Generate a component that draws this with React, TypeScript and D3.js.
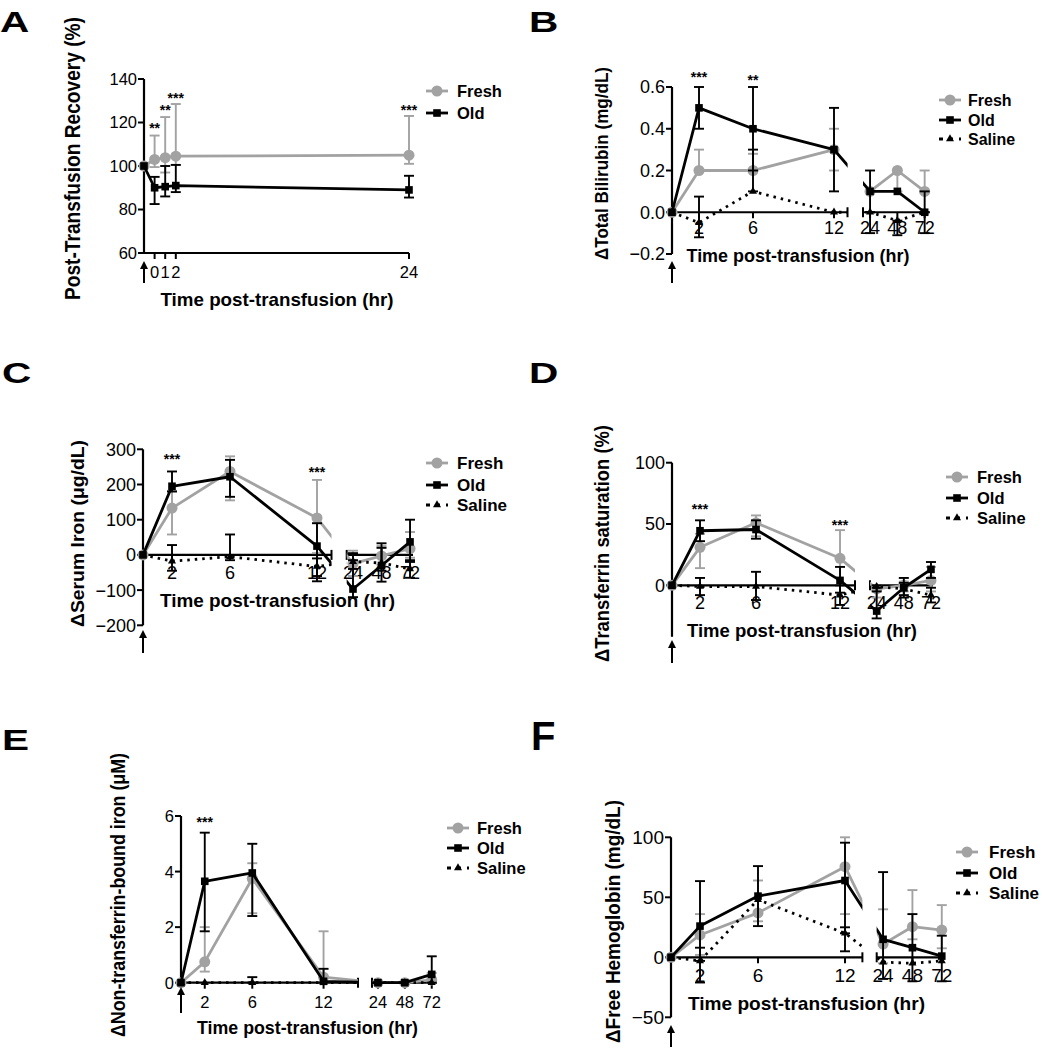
import React from 'react';
import * as d3 from 'd3';

const FONT = "'Liberation Sans', Arial, Helvetica, sans-serif";
const GRAY = '#a2a2a2';

// ---------- Panel A ----------
const A_TIMES = [-1, 0, 1, 2, 24];
const A_FRESH = [100, 103, 103.8, 104.5, 105];
const A_FRESH_HI = [100, 114, 122.5, 128.5, 123];
const A_FRESH_LO = [100, 99.5, 97, 100.5, 101];
const A_OLD = [100, 90, 90.5, 91, 89];
const A_OLD_HI = [100, 95, 100, 100.5, 95.5];
const A_OLD_LO = [100, 82.5, 86, 88, 85.5];
const A_STAR_T = [0, 1, 2, 24];
const A_STAR_V = [119, 127, 132.5, 127];
const A_STAR_TXT = ['**', '**', '***', '***'];
const A_XTICKS = [0, 1, 2, 24];
const A_YTICKS = [60, 80, 100, 120, 140];

// ---------- shared time points ----------
const TIMES = [0, 2, 6, 12, 24, 48, 72];
const SEG_TICKS = [[2, 6, 12], [24, 48, 72]];

// ---------- Panel B: Total bilirubin ----------
const B_FRESH = [0, 0.2, 0.2, 0.3, 0.1, 0.2, 0.1];
const B_FRESH_HI = [0, 0.3, 0.28, 0.4, 0.1, 0.2, 0.2];
const B_FRESH_LO = [0, 0.2, 0.2, 0.2, 0.1, 0.1, 0.1];
const B_OLD = [0, 0.5, 0.4, 0.3, 0.1, 0.1, 0];
const B_OLD_HI = [0, 0.6, 0.6, 0.5, 0.2, 0.1, 0.1];
const B_OLD_LO = [0, 0.4, 0.2, 0.1, 0, 0.1, 0];
const B_SAL = [0, -0.05, 0.1, 0, 0, -0.04, 0];
const B_SAL_HI = [0, 0.075, 0.3, 0, 0, -0.04, 0];
const B_SAL_LO = [0, -0.12, 0.1, 0, -0.1, -0.11, -0.1];
const B_STAR_T = [2, 6];
const B_STAR_V = [0.663, 0.648];
const B_STAR_TXT = ['***', '**'];
const B_YTICKS = [-0.2, 0, 0.2, 0.4, 0.6];

// ---------- Panel C: Serum iron ----------
const C_FRESH = [0, 133, 237, 105, -25, -3, 18];
const C_FRESH_HI = [0, 182, 280, 213, 12, 25, 65];
const C_FRESH_LO = [0, 58, 155, 5, -60, -28, -8];
const C_OLD = [0, 195, 222, 25, -97, -30, 37];
const C_OLD_HI = [0, 237, 270, 90, -15, 33, 100];
const C_OLD_LO = [0, 180, 165, -75, -120, -76, -20];
const C_SAL = [0, -18, -5, -33, -19, -23, -40];
const C_SAL_HI = [0, 28, 58, -10, 5, 20, -15];
const C_SAL_LO = [0, -45, -15, -60, -40, -45, -65];
const C_STAR_T = [2, 12];
const C_STAR_V = [281, 244];
const C_STAR_TXT = ['***', '***'];
const C_YTICKS = [-200, -100, 0, 100, 200, 300];

// ---------- Panel D: Transferrin saturation ----------
const D_FRESH = [0, 31, 51, 22, -3, 0, 4];
const D_FRESH_HI = [0, 42, 57, 45, 0, 3, 15];
const D_FRESH_LO = [0, 14, 40, 0, -10, -5, -5];
const D_OLD = [0, 44.5, 45.5, 4, -21, -2, 13];
const D_OLD_HI = [0, 53, 53, 15, -2, 6, 19];
const D_OLD_LO = [0, 36, 38, -6, -27, -10, 6];
const D_SAL = [0, -1, -1, -8, -1, -3, -8];
const D_SAL_HI = [0, 6, 11, 0, 0, 2, -2];
const D_SAL_LO = [0, -8, -12, -16, -5, -8, -14];
const D_STAR_T = [2, 12];
const D_STAR_V = [64.6, 51.6];
const D_STAR_TXT = ['***', '***'];
const D_YTICKS = [0, 50, 100];

// ---------- Panel E: NTBI ----------
const E_FRESH = [0, 0.75, 3.75, 0.2, 0, 0, 0.1];
const E_FRESH_HI = [0, 2.0, 4.3, 1.85, 0, 0, 0.35];
const E_FRESH_LO = [0, 0.4, 2.5, 0, 0, 0, 0];
const E_OLD = [0, 3.65, 3.95, 0.05, 0, 0, 0.3];
const E_OLD_HI = [0, 5.4, 5.0, 0.5, 0, 0, 0.95];
const E_OLD_LO = [0, 1.85, 2.4, 0, 0, 0, 0];
const E_SAL = [0, 0, 0, 0, 0, 0, 0];
const E_SAL_HI = [0, 0, 0.2, 0, 0, 0, 0];
const E_SAL_LO = [0, 0, 0, 0, 0, 0, 0];
const E_STAR_T = [2];
const E_STAR_V = [5.89];
const E_STAR_TXT = ['***'];
const E_YTICKS = [0, 2, 4, 6];

// ---------- Panel F: Free hemoglobin ----------
const F_FRESH = [0, 18.6, 37, 75.5, 11, 25.5, 22.7];
const F_FRESH_HI = [0, 36, 64, 100, 40, 56, 43.5];
const F_FRESH_LO = [0, 2, 30, 36, -5, 15, 7.5];
const F_OLD = [0, 26, 51, 64, 15, 8, 1];
const F_OLD_HI = [0, 63.5, 76, 95.5, 71, 36, 18];
const F_OLD_LO = [0, -21, 26, 5, -18, -20, -20];
const F_SAL = [0, -3, 48, 20, -4, -5, -3];
const F_SAL_HI = [0, 8, 48, 25, -4, -5, -3];
const F_SAL_LO = [0, -3, 48, 20, -4, -5, -3];
const F_YTICKS = [-50, 0, 50, 100];

const SERIES_NAMES = ['Fresh', 'Old', 'Saline'];

type Marker = 'circle' | 'square' | 'triangle';
type Series = {
  name: string; color: string; marker: Marker; dashed: boolean;
  t: number[]; v: number[]; lo: number[]; hi: number[];
};
type Star = { t: number; v: number; text: string };
type PanelCfg = {
  id: string;
  label: string; labelX: number; labelY: number; labelSize: number; labelStretch: number;
  xDomain: number[]; xRange: number[];
  segments: [number, number][];
  segTicks: number[][];
  yDomain: [number, number]; yRange: [number, number];
  yTicks: number[]; yFmt: (v: number) => string;
  xAxisAt: number;
  tickLabelY: number; tickSize: number; legendSize: number;
  series: Series[];
  stars: Star[];
  legendX: number; legendY: number[]; legendTextX: number;
  yTitle: string; yTitleX: number; yTitleY: number; yTitleSize: number; yTitleLen: number;
  xTitle: string; xTitleX: number; xTitleY: number; xTitleLen: number;
  arrowTop: number; arrowBottom: number;
};

function mk(name: string, t: number[], v: number[], lo: number[], hi: number[]): Series {
  if (name === 'Fresh') return { name, color: GRAY, marker: 'circle', dashed: false, t, v, lo, hi };
  if (name === 'Old') return { name, color: '#000', marker: 'square', dashed: false, t, v, lo, hi };
  return { name, color: '#000', marker: 'triangle', dashed: true, t, v, lo, hi };
}
function stars(t: number[], v: number[], txt: string[]): Star[] {
  return t.map((tt, i) => ({ t: tt, v: v[i], text: txt[i] }));
}
const fmtInt = (v: number) => d3.format('d')(v);
const fmt1 = (v: number) => d3.format('.1f')(v);
const XT = 'Time post-transfusion (hr)';

const PANELS: PanelCfg[] = [
  {
    id: 'A', label: 'A', labelX: 0, labelY: 32, labelSize: 29, labelStretch: 1.4,
    xDomain: [-1, 24], xRange: [144, 409], segments: [[-1, 24]], segTicks: [A_XTICKS],
    yDomain: [60, 140], yRange: [253, 79], yTicks: A_YTICKS, yFmt: fmtInt, xAxisAt: 60,
    tickLabelY: 272, tickSize: 16.5, legendSize: 16.5,
    series: [mk('Fresh', A_TIMES, A_FRESH, A_FRESH_LO, A_FRESH_HI), mk('Old', A_TIMES, A_OLD, A_OLD_LO, A_OLD_HI)],
    stars: stars(A_STAR_T, A_STAR_V, A_STAR_TXT),
    legendX: 437, legendY: [91, 113], legendTextX: 457,
    yTitle: 'Post-Transfusion Recovery (%)', yTitleX: 72, yTitleY: 158.5, yTitleSize: 21.5, yTitleLen: 283,
    xTitle: XT, xTitleX: 277, xTitleY: 299, xTitleLen: 233, arrowTop: 261, arrowBottom: 283,
  },
  {
    id: 'B', label: 'B', labelX: 529, labelY: 32, labelSize: 29, labelStretch: 1.4,
    xDomain: [0, 13, 17.8, 72.3], xRange: [672, 847.5, 863, 925], segments: [[0, 13], [17.8, 72.3]], segTicks: SEG_TICKS,
    yDomain: [-0.2, 0.6], yRange: [254, 87], yTicks: B_YTICKS, yFmt: fmt1, xAxisAt: 0,
    tickLabelY: 228, tickSize: 18, legendSize: 16,
    series: [mk('Fresh', TIMES, B_FRESH, B_FRESH_LO, B_FRESH_HI), mk('Old', TIMES, B_OLD, B_OLD_LO, B_OLD_HI), mk('Saline', TIMES, B_SAL, B_SAL_LO, B_SAL_HI)],
    stars: stars(B_STAR_T, B_STAR_V, B_STAR_TXT),
    legendX: 950, legendY: [100, 120, 139], legendTextX: 968,
    yTitle: '\u0394Total Bilirubin (mg/dL)', yTitleX: 602, yTitleY: 163.5, yTitleSize: 18, yTitleLen: 193,
    xTitle: XT, xTitleX: 798, xTitleY: 255, xTitleLen: 223, arrowTop: 261, arrowBottom: 283,
  },
  {
    id: 'C', label: 'C', labelX: 2, labelY: 383, labelSize: 29, labelStretch: 1.4,
    xDomain: [0, 13, 18.7, 74.5], xRange: [143, 331.5, 346.7, 413], segments: [[0, 13], [18.7, 74.5]], segTicks: SEG_TICKS,
    yDomain: [-200, 300], yRange: [625.3, 449.3], yTicks: C_YTICKS, yFmt: fmtInt, xAxisAt: 0,
    tickLabelY: 573, tickSize: 18, legendSize: 17,
    series: [mk('Fresh', TIMES, C_FRESH, C_FRESH_LO, C_FRESH_HI), mk('Old', TIMES, C_OLD, C_OLD_LO, C_OLD_HI), mk('Saline', TIMES, C_SAL, C_SAL_LO, C_SAL_HI)],
    stars: stars(C_STAR_T, C_STAR_V, C_STAR_TXT),
    legendX: 437, legendY: [463, 485, 505], legendTextX: 457,
    yTitle: '\u0394Serum Iron (\u03BCg/dL)', yTitleX: 78, yTitleY: 533.5, yTitleSize: 18, yTitleLen: 187,
    xTitle: XT, xTitleX: 277.5, xTitleY: 600, xTitleLen: 235, arrowTop: 630, arrowBottom: 653,
  },
  {
    id: 'D', label: 'D', labelX: 529, labelY: 383, labelSize: 29, labelStretch: 1.4,
    xDomain: [0, 13.07, 18.1, 73.8], xRange: [672, 855, 870, 933], segments: [[0, 13.07], [18.1, 73.8]], segTicks: SEG_TICKS,
    yDomain: [-42, 100], yRange: [636.8, 462.7], yTicks: D_YTICKS, yFmt: fmtInt, xAxisAt: 0,
    tickLabelY: 603, tickSize: 18, legendSize: 16.5,
    series: [mk('Fresh', TIMES, D_FRESH, D_FRESH_LO, D_FRESH_HI), mk('Old', TIMES, D_OLD, D_OLD_LO, D_OLD_HI), mk('Saline', TIMES, D_SAL, D_SAL_LO, D_SAL_HI)],
    stars: stars(D_STAR_T, D_STAR_V, D_STAR_TXT),
    legendX: 957, legendY: [477, 498, 518], legendTextX: 977,
    yTitle: '\u0394Transferrin saturation (%)', yTitleX: 602, yTitleY: 543.5, yTitleSize: 19.5, yTitleLen: 237,
    xTitle: XT, xTitleX: 802, xTitleY: 630, xTitleLen: 230, arrowTop: 640, arrowBottom: 663,
  },
  {
    id: 'E', label: 'E', labelX: 2, labelY: 750, labelSize: 29, labelStretch: 1.4,
    xDomain: [0, 14.9, 18.7, 76.7], xRange: [181, 358, 372, 437], segments: [[0, 14.9], [18.7, 76.7]], segTicks: SEG_TICKS,
    yDomain: [0, 6], yRange: [982.7, 816], yTicks: E_YTICKS, yFmt: fmtInt, xAxisAt: 0,
    tickLabelY: 1002, tickSize: 16.5, legendSize: 16.5,
    series: [mk('Fresh', TIMES, E_FRESH, E_FRESH_LO, E_FRESH_HI), mk('Old', TIMES, E_OLD, E_OLD_LO, E_OLD_HI), mk('Saline', TIMES, E_SAL, E_SAL_LO, E_SAL_HI)],
    stars: stars(E_STAR_T, E_STAR_V, E_STAR_TXT),
    legendX: 458, legendY: [828, 848, 868], legendTextX: 477,
    yTitle: '\u0394Non-transferrin-bound iron (\u03BCM)', yTitleX: 118, yTitleY: 895, yTitleSize: 20, yTitleLen: 284,
    xTitle: XT, xTitleX: 307.5, xTitleY: 1027, xTitleLen: 221, arrowTop: 987, arrowBottom: 1013,
  },
  {
    id: 'F', label: 'F', labelX: 531, labelY: 750, labelSize: 40, labelStretch: 1.0,
    xDomain: [0, 13.2, 18.8, 73], xRange: [671, 862.4, 876.7, 943], segments: [[0, 13.2], [18.8, 73]], segTicks: SEG_TICKS,
    yDomain: [-50, 100], yRange: [1017.3, 837.3], yTicks: F_YTICKS, yFmt: fmtInt, xAxisAt: 0,
    tickLabelY: 975, tickSize: 19, legendSize: 17,
    series: [mk('Fresh', TIMES, F_FRESH, F_FRESH_LO, F_FRESH_HI), mk('Old', TIMES, F_OLD, F_OLD_LO, F_OLD_HI), mk('Saline', TIMES, F_SAL, F_SAL_LO, F_SAL_HI)],
    stars: [],
    legendX: 967, legendY: [852, 873, 893], legendTextX: 989,
    yTitle: '\u0394Free Hemoglobin (mg/dL)', yTitleX: 613, yTitleY: 921.5, yTitleSize: 19.5, yTitleLen: 243,
    xTitle: XT, xTitleX: 806.5, xTitleY: 1003, xTitleLen: 237, arrowTop: 1025, arrowBottom: 1047,
  },
];

function MarkerShape({ m, cx, cy, color }: { m: Marker; cx: number; cy: number; color: string }) {
  if (m === 'circle') return <circle cx={cx} cy={cy} r={5.5} fill={color} />;
  if (m === 'square') return <rect x={cx - 3.8} y={cy - 3.8} width={7.6} height={7.6} fill={color} />;
  const sym = d3.symbol().type(d3.symbolTriangle).size(28)();
  return <path d={sym || ''} transform={`translate(${cx},${cy})`} fill={color} />;
}

function Panel({ cfg }: { cfg: PanelCfg }) {
  const x = d3.scaleLinear().domain(cfg.xDomain).range(cfg.xRange);
  const y = d3.scaleLinear().domain(cfg.yDomain).range(cfg.yRange);
  const yAxisX = x(cfg.xDomain[0]);
  const y0 = y(cfg.xAxisAt);
  const nSeg = cfg.segments.length;
  const lineGen = (s: Series) =>
    d3.line<number>().x(i => x(s.t[i])).y(i => y(s.v[i]))(s.t.map((_, i) => i)) || '';

  return (
    <g>
      <defs>
        {cfg.segments.map((sg, k) => {
          const x0 = x(sg[0]) - (k === 0 ? 6 : 0);
          const x1 = x(sg[1]) + (k === nSeg - 1 ? 6 : 0);
          return (
            <clipPath id={`clip-${cfg.id}-${k}`} key={k}>
              <rect x={x0} y={0} width={x1 - x0} height={1050} />
            </clipPath>
          );
        })}
      </defs>

      {/* panel label */}
      <text
        transform={`translate(${cfg.labelX},${cfg.labelY}) scale(${cfg.labelStretch},1)`}
        fontFamily={FONT} fontWeight={700} fontSize={cfg.labelSize} fill="#000"
      >{cfg.label}</text>

      {/* y axis */}
      <line x1={yAxisX} x2={yAxisX} y1={y(cfg.yDomain[0])} y2={y(cfg.yDomain[1])} stroke="#000" strokeWidth={2.2} />
      {cfg.yTicks.map(v => (
        <g key={v}>
          <line x1={yAxisX - 6} x2={yAxisX} y1={y(v)} y2={y(v)} stroke="#000" strokeWidth={2} />
          <text x={yAxisX - 7} y={y(v)} dy="0.36em" textAnchor="end" fontFamily={FONT} fontSize={cfg.tickSize} fill="#000">{cfg.yFmt(v)}</text>
        </g>
      ))}

      {/* x axis segments */}
      {cfg.segments.map((sg, k) => (
        <g key={k}>
          <line x1={x(sg[0])} x2={x(sg[1])} y1={y0} y2={y0} stroke="#000" strokeWidth={2.2} />
          {nSeg > 1 && k > 0 && <line x1={x(sg[0])} x2={x(sg[0])} y1={y0 - 5} y2={y0 + 5} stroke="#000" strokeWidth={2} />}
          {nSeg > 1 && k < nSeg - 1 && <line x1={x(sg[1])} x2={x(sg[1])} y1={y0 - 5} y2={y0 + 5} stroke="#000" strokeWidth={2} />}
          {(cfg.segTicks[k] || []).map(t => (
            <g key={t}>
              <line x1={x(t)} x2={x(t)} y1={y0} y2={y0 + 6} stroke="#000" strokeWidth={2} />
              <text x={x(t)} y={cfg.tickLabelY} dy="0.36em" textAnchor="middle" fontFamily={FONT} fontSize={cfg.tickSize} fill="#000">{t}</text>
            </g>
          ))}
        </g>
      ))}

      {/* series */}
      {cfg.series.map(s => (
        <g key={s.name}>
          {cfg.segments.map((_, k) => (
            <path key={k} d={lineGen(s)} clipPath={`url(#clip-${cfg.id}-${k})`} fill="none" stroke={s.color}
              strokeWidth={2.8} strokeDasharray={s.dashed ? '2.5 5' : undefined} strokeLinejoin="round" />
          ))}
          {s.t.map((t, i) => {
            const cx = x(t);
            const yl = y(s.lo[i]);
            const yh = y(s.hi[i]);
            if (s.lo[i] === s.hi[i]) return null;
            return (
              <g key={i} stroke={s.color} strokeWidth={1.9}>
                <line x1={cx} x2={cx} y1={yl} y2={yh} />
                <line x1={cx - 5} x2={cx + 5} y1={yh} y2={yh} />
                <line x1={cx - 5} x2={cx + 5} y1={yl} y2={yl} />
              </g>
            );
          })}
          {s.t.map((t, i) => (
            <MarkerShape key={i} m={s.marker} cx={x(t)} cy={y(s.v[i])} color={s.color} />
          ))}
        </g>
      ))}

      {/* significance stars */}
      {cfg.stars.map((st, i) => (
        <text key={i} x={x(st.t)} y={y(st.v) + 8} textAnchor="middle" fontFamily={FONT} fontWeight={700} fontSize={14} fill="#000">{st.text}</text>
      ))}

      {/* legend */}
      {cfg.series.map((s, i) => (
        <g key={s.name}>
          <line x1={cfg.legendX - 11} x2={cfg.legendX + 11} y1={cfg.legendY[i]} y2={cfg.legendY[i]} stroke={s.color}
            strokeWidth={2.8} strokeDasharray={s.dashed ? '4 6' : undefined} />
          <MarkerShape m={s.marker} cx={cfg.legendX} cy={cfg.legendY[i]} color={s.color} />
          <text x={cfg.legendTextX} y={cfg.legendY[i]} dy="0.36em" fontFamily={FONT} fontWeight={700} fontSize={cfg.legendSize} fill="#000">{SERIES_NAMES[i]}</text>
        </g>
      ))}

      {/* axis titles */}
      <text transform={`translate(${cfg.yTitleX},${cfg.yTitleY}) rotate(-90)`} textAnchor="middle" dy="0.36em"
        textLength={cfg.yTitleLen} lengthAdjust="spacingAndGlyphs"
        fontFamily={FONT} fontWeight={700} fontSize={cfg.yTitleSize} fill="#000">{cfg.yTitle}</text>
      <text x={cfg.xTitleX} y={cfg.xTitleY} dy="0.36em" textAnchor="middle"
        textLength={cfg.xTitleLen} lengthAdjust="spacingAndGlyphs"
        fontFamily={FONT} fontWeight={700} fontSize={18.5} fill="#000">{cfg.xTitle}</text>

      {/* transfusion arrow */}
      <line x1={yAxisX} x2={yAxisX} y1={cfg.arrowTop + 6} y2={cfg.arrowBottom} stroke="#000" strokeWidth={2} />
      <path d={`M${yAxisX},${cfg.arrowTop} L${yAxisX - 4},${cfg.arrowTop + 8} L${yAxisX + 4},${cfg.arrowTop + 8} Z`} fill="#000" />
    </g>
  );
}

export default function App() {
  return (
    <svg width={1042} height={1050} viewBox="0 0 1042 1050"
      style={{ position: 'absolute', left: 0, top: 0, background: '#fff' }}>
      <rect x={0} y={0} width={1042} height={1050} fill="#fff" />
      {PANELS.map(p => <Panel key={p.id} cfg={p} />)}
    </svg>
  );
}
